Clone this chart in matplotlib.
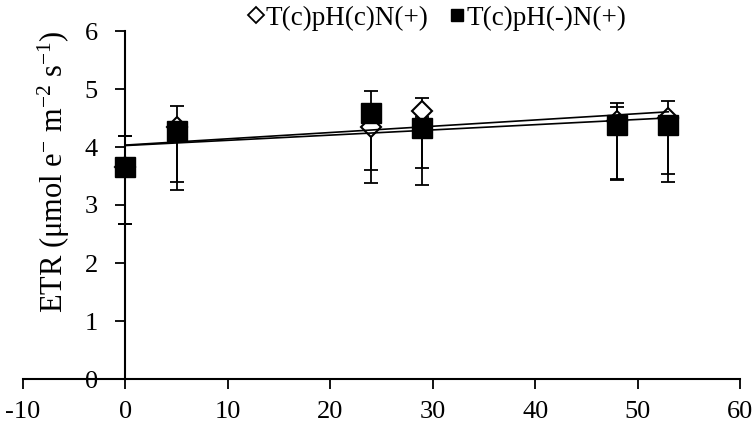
import numpy as np
import matplotlib
matplotlib.use("Agg")
import matplotlib.pyplot as plt
from matplotlib.lines import Line2D

plt.rcParams['font.family'] = ['Liberation Serif', 'DejaVu Serif']
plt.rcParams['mathtext.fontset'] = 'custom'
plt.rcParams['mathtext.rm'] = 'Liberation Serif'
plt.rcParams['mathtext.it'] = 'Liberation Serif:italic'
plt.rcParams['axes.unicode_minus'] = False

# Data
days = [0, 5, 24, 29, 48, 53]
label_c = "T(c)pH(c)N(+)"
label_m = "T(c)pH(-)N(+)"
etr_c = [3.65, 4.35, 4.35, 4.62, 4.45, 4.50]
etr_c_lo = [0.98, 0.95, 0.97, 0.98, 1.00, 0.97]
etr_c_hi = [0.54, 0.36, 0.20, 0.22, 0.31, 0.29]
etr_m = [3.65, 4.27, 4.58, 4.32, 4.38, 4.38]
etr_m_lo = [0.98, 1.01, 0.98, 0.98, 0.95, 0.98]
etr_m_hi = [0.54, 0.15, 0.39, 0.20, 0.31, 0.15]
xticks = [-10, 0, 10, 20, 30, 40, 50, 60]
yticks = [0, 1, 2, 3, 4, 5, 6]

fig = plt.figure(figsize=(7.56, 4.29), dpi=100)
ax = fig.add_axes([23/756, 1-379/429, 717/756, 348/429])
ax.set_xlim(-10, 60)
ax.set_ylim(0, 6)

ax.errorbar(days, etr_c, yerr=[etr_c_lo, etr_c_hi], fmt='none', ecolor='black',
            elinewidth=1.3, capsize=5, capthick=1.3, zorder=2)
ax.errorbar(days, etr_m, yerr=[etr_m_lo, etr_m_hi], fmt='none', ecolor='black',
            elinewidth=1.3, capsize=5, capthick=1.3, zorder=2)
ax.plot(days, etr_c, linestyle='none', marker='D', ms=10, mfc='white', mec='black',
        mew=1.5, zorder=3)
ax.plot(days, etr_m, linestyle='none', marker='s', ms=14, mfc='black', mec='black',
        zorder=4)

xs = np.array([min(days), max(days)])
for vals in (etr_c, etr_m):
    p = np.polyfit(days, vals, 1)
    ax.plot(xs, np.polyval(p, xs), color='black', lw=1.2, zorder=5)

for s in ('top', 'right'):
    ax.spines[s].set_visible(False)
ax.spines['left'].set_position(('data', 0))
ax.spines['bottom'].set_position(('data', 0))
ax.spines['left'].set_linewidth(1.5)
ax.spines['bottom'].set_linewidth(1.5)

ax.set_xticks(xticks)
ax.set_yticks(yticks)
ax.tick_params(axis='x', direction='out', length=7, width=1.3, pad=9, labelsize=19)
ax.tick_params(axis='y', direction='out', length=7, width=1.3, pad=13, labelsize=19)

ax.set_ylabel(r'ETR (μmol e$^{-}$ m$^{-2}$ s$^{-1}$)', fontsize=22)
ax.yaxis.set_label_coords(0.068, 0.595)

handles = [Line2D([], [], linestyle='none', marker='D', ms=8, mfc='white', mec='black', mew=1.3),
           Line2D([], [], linestyle='none', marker='s', ms=8.5, mfc='black', mec='black')]
fig.legend(handles, [label_c, label_m], loc='center', bbox_to_anchor=(438/756, 1-18/429),
           ncol=2, frameon=False, fontsize=19.5, handlelength=0.5, handletextpad=0.1,
           columnspacing=0.8, borderpad=0)

fig.savefig('out.png', dpi=100)
